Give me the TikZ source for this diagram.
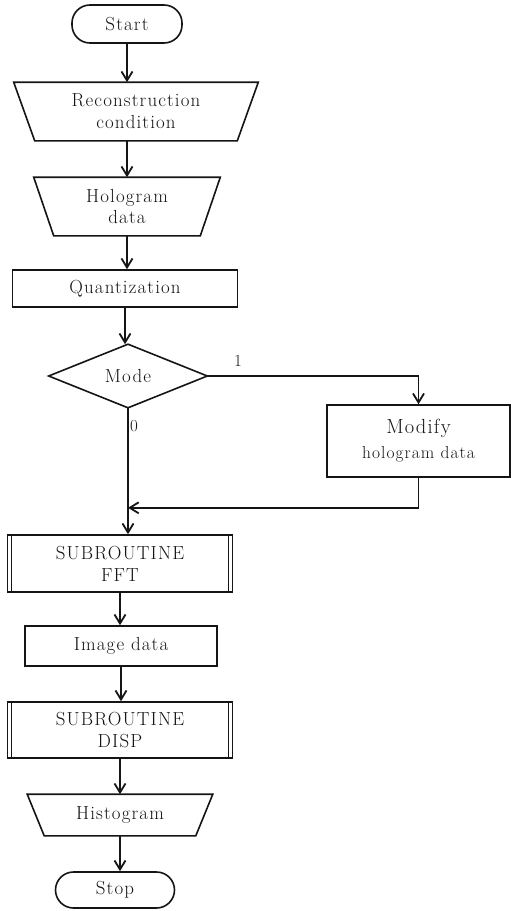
\documentclass[tikz,border=0pt]{standalone}
\usepackage{fontspec}
\usetikzlibrary{arrows.meta}
\newfontfamily\chartfont[LetterSpace=6]{Latin Modern Roman}
\definecolor{Ink}{HTML}{151515}
\tikzset{
  chart/.style={line width=1.6bp,text=Ink,inner sep=0bp,align=center,
    font=\chartfont\fontsize{19}{22}\selectfont},
  terminal/.style={chart,draw=Ink,rectangle,rounded corners=18bp,minimum width=#1,minimum height=38bp},
  iobox/.style={chart,rectangle,minimum height=57bp},
  procbox/.style={chart,draw=Ink,rectangle},
  subbox/.style={chart,draw=Ink,rectangle},
  decision/.style={chart,rectangle,minimum width=157bp,minimum height=62bp},
  flow/.style={draw=Ink,line width=1.8bp,-{Straight Barb[length=9bp,width=11bp]}},
  bar/.style={draw=Ink,line width=1.6bp,line join=miter},
  tag/.style={text=Ink,inner sep=0bp,font=\chartfont\fontsize{17}{17}\selectfont}
}
\newcommand{\subbars}[1]{
  \draw[bar] ([xshift=5bp]#1.north west) -- ([xshift=5bp]#1.south west);
  \draw[bar] ([xshift=-5bp]#1.north east) -- ([xshift=-5bp]#1.south east);
}
\newcommand{\ioframe}[2]{
  \draw[bar] (#1.north west) -- (#1.north east) -- ([xshift=-#2]#1.south east)
    -- ([xshift=#2]#1.south west) -- cycle;
}
\newcommand{\diamondframe}[1]{
  \draw[bar] (#1.north) -- (#1.east) -- (#1.south) -- (#1.west) -- cycle;
}

\begin{document}
\begin{tikzpicture}[x=1bp,y=-1bp]
  \path[use as bounding box] (0,0) rectangle (511,911);
  \fill[white] (0,0) rectangle (511,911);

  % main column of the reconstruction flow
  \node[terminal=110bp] (start) at (127,24) {Start};
  \node[iobox,minimum width=243bp] (recon) at (136,111.5) {Reconstruction\\condition};
  \node[iobox,minimum width=185bp] (holo) at (127,206.5) {Hologram\\data};
  \node[procbox,minimum width=225bp,minimum height=37bp] (quant) at (125,288.5) {Quantization};
  \node[decision] (mode) at (128,376) {Mode};
  \node[procbox,minimum width=183bp,minimum height=72bp] (modify) at (418.5,441)
    {{\fontsize{20.5}{24}\selectfont Modify}\\[3bp]{\fontsize{17.5}{20}\selectfont hologram data}};
  \node[subbox,minimum width=225bp,minimum height=57bp] (fft) at (120,563.5) {SUBROUTINE\\FFT};
  \node[procbox,minimum width=192bp,minimum height=40bp] (image) at (121,646) {Image data};
  \node[subbox,minimum width=225bp,minimum height=56bp] (disp) at (120,730) {SUBROUTINE\\DISP};
  \node[iobox,minimum width=184bp,minimum height=40bp] (hist) at (120,815) {Histogram};
  \node[terminal=119bp,minimum height=36bp] (stop) at (115,890) {Stop};
  \ioframe{recon}{21bp}
  \ioframe{holo}{20bp}
  \ioframe{hist}{17bp}
  \diamondframe{mode}
  \subbars{fft}
  \subbars{disp}

  \node[tag] (one) at (238,361) {1};
  \node[tag] (zero) at (134,426) {0};
  \path (mode.south) ++(0,100) coordinate (join);

  \draw[flow] (start.south) -- (start.south |- recon.north);
  \draw[flow] (recon.south -| holo.north) -- (holo.north);
  \draw[flow] (holo.south) -- (holo.south |- quant.north);
  \draw[flow] (quant.south) -- (quant.south |- mode.north);
  \draw[flow] (mode.east) -| (modify.north);
  \draw[flow] (modify.south) |- (join);
  \draw[flow] (mode.south) -- (mode.south |- fft.north);
  \draw[flow] (fft.south) -- (fft.south |- image.north);
  \draw[flow] (image.south) -- (image.south |- disp.north);
  \draw[flow] (disp.south) -- (disp.south |- hist.north);
  \draw[flow] (hist.south) -- (hist.south |- stop.north);
\end{tikzpicture}
\end{document}
